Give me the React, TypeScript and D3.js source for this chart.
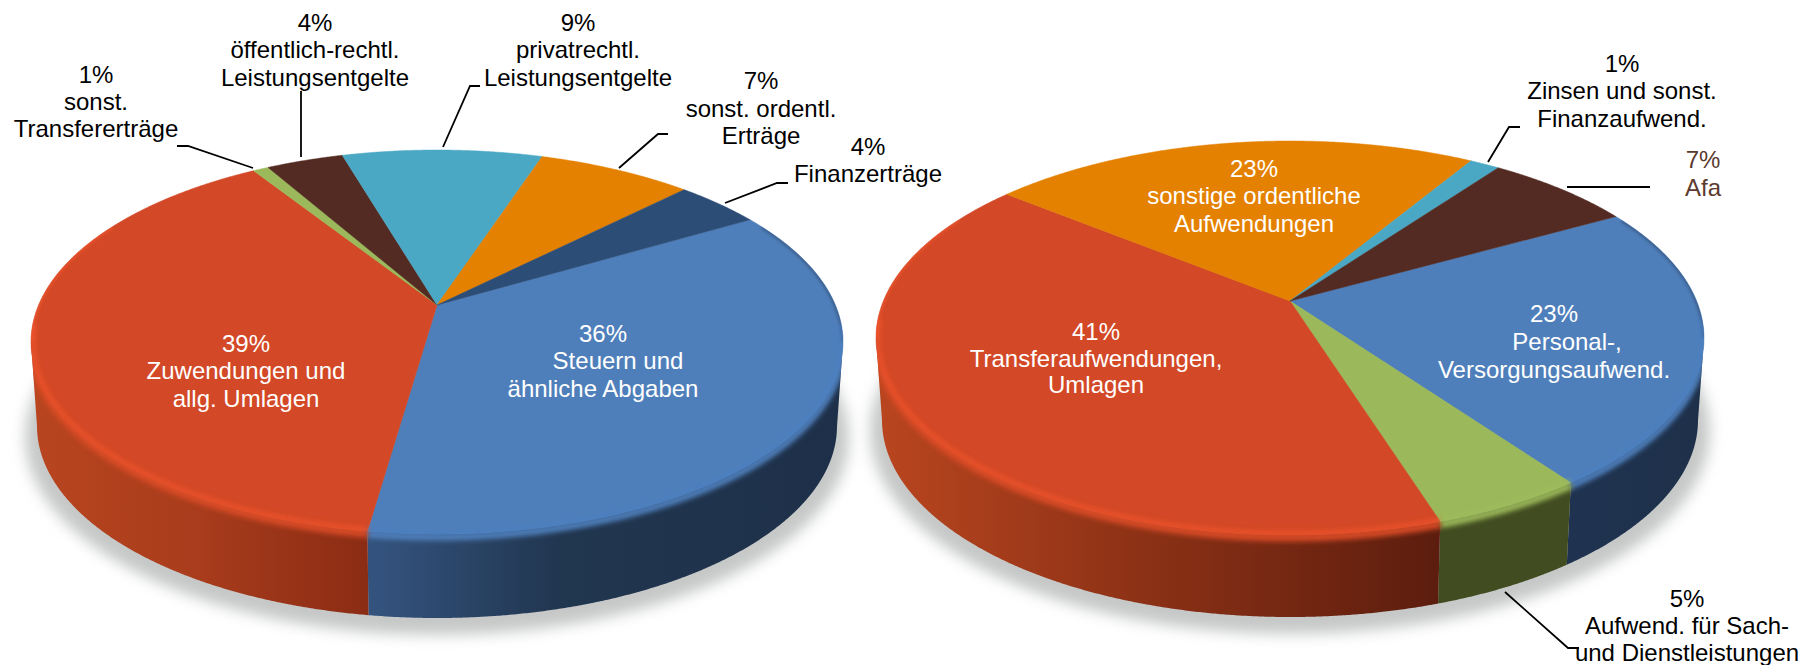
import React from "react";
import * as d3 from "d3";

// ---------- data (percent shares, clockwise) ----------
const incomeLabels = ["Steuern", "Zuwendungen und allg. Umlagen", "sonst. Transfererträge", "öffentlich-rechtl. Leistungsentgelte", "privatrechtl. Leistungsentgelte", "sonst. ordentl. Erträge", "Finanzerträge"];
const incomeValues = [35.7, 38.75, 0.75, 3.7, 9.6, 7.4, 4.1];
const incomeKinds = ["blue", "red", "green", "brown", "teal", "orange", "navy"];

const expenseLabels = ["Personal-, Versorgungsaufwend.", "Sach- und Dienstleistungen", "Transferaufwendungen, Umlagen", "sonstige ordentliche Aufwendungen", "Zinsen und sonst. Finanzaufwend.", "Afa"];
const expenseValues = [23.1, 5.05, 40.7, 22.85, 1.4, 6.9];
const expenseKinds = ["blue", "green", "red", "orange", "teal", "brown"];

// ---------- styles ----------
const TOP: Record<string, string> = { blue: "#4f7fba", navy: "#2c4d76", orange: "#e48100", teal: "#4aa8c5", brown: "#532b22", green: "#9bb85a", red: "#d34826" };
const RIM: Record<string, string> = { blue: "#4a7fc2", navy: "#2c4d76", orange: "#e48100", teal: "#4aa8c5", brown: "#532b22", green: "#9fbd5e", red: "#f4562b" };
const EDGE: Record<string, string> = { blue: "#2c4a72", red: "#f4562b" };

type Geo = { id: string; cx: number; cy: number; rx: number; ry: number; apexUp: number; depth: number; brx: number; startDeg: number };
const leftGeo: Geo = { id: "l", cx: 437, cy: 342, rx: 406, ry: 192, apexUp: 37, depth: 84, brx: 400, startDeg: 59.6 };
const rightGeo: Geo = { id: "r", cx: 1290, cy: 338, rx: 414, ry: 197, apexUp: 37, depth: 82, brx: 408, startDeg: 61 };

const sideStops: Record<string, Record<string, [number, string][]>> = {
  l: {
    red: [[37, "#b8451f"], [200, "#a83c1c"], [367, "#8b2c14"]],
    blue: [[367, "#345480"], [560, "#21364f"], [843, "#1e3049"]],
  },
  r: {
    red: [[884, "#b8451f"], [1130, "#8e3216"], [1442, "#5c1d0e"]],
    green: [[1442, "#414c20"], [1575, "#414c20"]],
    blue: [[1575, "#1f3350"], [1704, "#1e3049"]],
  },
};

const FONT = "'Liberation Sans', Arial, sans-serif";
const FS = 24;

type Lab = { lines: [string, number, number][]; fill: string };
const labels: Lab[] = [
  { fill: "#000", lines: [["1%", 96, 83], ["sonst.", 96, 110], ["Transfererträge", 96, 137]] },
  { fill: "#000", lines: [["4%", 315, 31], ["öffentlich-rechtl.", 315, 58], ["Leistungsentgelte", 315, 86]] },
  { fill: "#000", lines: [["9%", 578, 31], ["privatrechtl.", 578, 58], ["Leistungsentgelte", 578, 86]] },
  { fill: "#000", lines: [["7%", 761, 89], ["sonst. ordentl.", 761, 117], ["Erträge", 761, 144]] },
  { fill: "#000", lines: [["4%", 868, 155], ["Finanzerträge", 868, 182]] },
  { fill: "#fff", lines: [["39%", 246, 352], ["Zuwendungen und", 246, 379], ["allg. Umlagen", 246, 407]] },
  { fill: "#fff", lines: [["36%", 603, 342], ["Steuern und", 618, 369], ["ähnliche Abgaben", 603, 397]] },
  { fill: "#000", lines: [["1%", 1622, 72], ["Zinsen und sonst.", 1622, 99], ["Finanzaufwend.", 1622, 127]] },
  { fill: "#5c3a2e", lines: [["7%", 1703, 168], ["Afa", 1703, 196]] },
  { fill: "#fff", lines: [["23%", 1254, 177], ["sonstige ordentliche", 1254, 204], ["Aufwendungen", 1254, 232]] },
  { fill: "#fff", lines: [["41%", 1096, 340], ["Transferaufwendungen,", 1096, 367], ["Umlagen", 1096, 393]] },
  { fill: "#fff", lines: [["23%", 1554, 322], ["Personal-,", 1567, 350], ["Versorgungsaufwend.", 1554, 378]] },
  { fill: "#000", lines: [["5%", 1687, 607], ["Aufwend. für Sach-", 1687, 634], ["und Dienstleistungen", 1687, 661]] },
];

const leaders: [number, number][][] = [
  [[177, 146], [188, 146], [253, 168]],
  [[301, 91], [301, 157]],
  [[480, 86], [470, 86], [443, 147]],
  [[668, 134], [658, 134], [619, 168]],
  [[788, 183], [777, 183], [725, 203]],
  [[1520, 127], [1509, 127], [1488, 162]],
  [[1650, 187], [1567, 187]],
  [[1505, 592], [1568, 648], [1579, 648]],
];

// ---------- geometry: perspective view of a disc ----------
const line = d3.line<[number, number]>().x((d) => d[0]).y((d) => d[1]);

function viewAngle(g: Geo) {
  const e = g.apexUp / g.ry;
  const a = (1 - Math.sqrt(1 - e * e)) / e;
  const ratio = (1 - a) / (1 + a);
  return (phi: number) => {
    const k = Math.round(phi / (2 * Math.PI));
    const r = phi - k * 2 * Math.PI;
    return 2 * Math.atan(ratio * Math.tan(r / 2)) + k * 2 * Math.PI;
  };
}

function Pie({ g, values, kinds }: { g: Geo; values: number[]; kinds: string[] }) {
  const toTheta = viewAngle(g);
  const start = (g.startDeg * Math.PI) / 180;
  const arcs = d3.pie<number>().sort(null).startAngle(start).endAngle(start + 2 * Math.PI)(values);
  const topPt = (th: number): [number, number] => [g.cx + g.rx * Math.sin(th), g.cy - g.ry * Math.cos(th)];
  const botPt = (th: number): [number, number] => [g.cx + g.brx * Math.sin(th), g.cy + g.depth - g.ry * Math.cos(th)];
  const step = Math.PI / 720;
  const samples = (a: any) => [...d3.range(a.startAngle, a.endAngle, step), a.endAngle].map(toTheta);
  const apex: [number, number] = [g.cx, g.cy - g.apexUp];
  const lower = (th: number) => Math.cos(th) <= 0;
  const band = (th: number) => Math.cos(th) <= 0.1;
  const upperBand = (th: number) => Math.cos(th) > 0 && Math.cos(th) < 0.6;
  const circle = d3.range(0, 2 * Math.PI, step);
  const upperRim = circle.filter((t) => !lower(t)).sort((p, q) => Math.sin(p) - Math.sin(q)).map(topPt);
  const lowerRim = circle.filter(lower).sort((p, q) => Math.sin(q) - Math.sin(p)).map(botPt);
  const silhouette = line([...upperRim, ...lowerRim]) + "Z";

  return (
    <g>
      <defs>
        <clipPath id={`sil-${g.id}`}>
          <path d={silhouette} />
        </clipPath>
        {Object.entries(sideStops[g.id]).map(([k, stops]) => {
          const x0 = stops[0][0];
          const x1 = stops[stops.length - 1][0];
          return (
            <linearGradient key={k} id={`side-${g.id}-${k}`} gradientUnits="userSpaceOnUse" x1={x0} x2={x1} y1={0} y2={0}>
              {stops.map(([x, c], i) => (
                <stop key={i} offset={(x - x0) / (x1 - x0)} stopColor={c} />
              ))}
            </linearGradient>
          );
        })}
      </defs>
      <ellipse cx={g.cx} cy={g.cy + g.depth + 11} rx={g.brx + 12} ry={g.ry + 6} fill="#c6c8c8" filter="url(#blur8)" />
      {arcs.map((a, i) => {
        const th = samples(a).filter(lower);
        if (th.length < 2) return null;
        const pts = [...th.map(topPt), ...th.slice().reverse().map(botPt)];
        return <path key={i} d={line(pts) + "Z"} fill={`url(#side-${g.id}-${kinds[i]})`} />;
      })}
      <g clipPath={`url(#sil-${g.id})`}>
        {arcs.map((a, i) => {
          const th = samples(a).filter(lower);
          if (th.length < 2) return null;
          const pts = th.map(topPt).map((p) => [p[0], p[1] + 3] as [number, number]);
          return <path key={i} d={line(pts) ?? ""} fill="none" stroke={TOP[kinds[i]]} strokeWidth={7} filter="url(#blur3)" />;
        })}
      </g>
      {arcs.map((a, i) => {
        const pts: [number, number][] = [apex, ...samples(a).map(topPt)];
        return <path key={i} d={line(pts) + "Z"} fill={TOP[kinds[i]]} stroke={TOP[kinds[i]]} strokeWidth={0.5} />;
      })}
      <g clipPath={`url(#sil-${g.id})`}>
        {arcs.map((a, i) => {
          const edge = EDGE[kinds[i]];
          const th = samples(a).filter(upperBand);
          if (!edge || th.length < 2) return null;
          return <path key={i} d={line(th.map(topPt)) ?? ""} fill="none" stroke={edge} strokeWidth={4} strokeOpacity={0.6} filter="url(#blur15)" />;
        })}
        {arcs.map((a, i) => {
          const th = samples(a).filter(band);
          if (th.length < 2) return null;
          const pts = th.map((t) => {
            const p = topPt(t);
            return [g.cx + (p[0] - g.cx) * 0.996, g.cy + (p[1] - g.cy) * 0.993] as [number, number];
          });
          return <path key={i} d={line(pts) ?? ""} fill="none" stroke={RIM[kinds[i]]} strokeWidth={4} strokeOpacity={0.85} filter="url(#blur3)" />;
        })}
      </g>
    </g>
  );
}

export default function App() {
  return (
    <svg width={1803} height={665} viewBox="0 0 1803 665" style={{ position: "absolute", left: 0, top: 0, display: "block", background: "#fff" }}>
      <defs>
        <filter id="blur8" filterUnits="userSpaceOnUse" x={0} y={0} width={1803} height={665}>
          <feGaussianBlur stdDeviation={7} />
        </filter>
        <filter id="blur3" filterUnits="userSpaceOnUse" x={0} y={0} width={1803} height={665}>
          <feGaussianBlur stdDeviation={2.5} />
        </filter>
        <filter id="blur15" filterUnits="userSpaceOnUse" x={0} y={0} width={1803} height={665}>
          <feGaussianBlur stdDeviation={1.5} />
        </filter>
      </defs>
      <Pie g={leftGeo} values={incomeValues} kinds={incomeKinds} />
      <Pie g={rightGeo} values={expenseValues} kinds={expenseKinds} />
      {leaders.map((pts, i) => (
        <path key={i} d={line(pts) ?? ""} fill="none" stroke="#000" strokeWidth={1.8} />
      ))}
      {labels.map((lab, i) => (
        <g key={i} fontFamily={FONT} fontSize={FS} fill={lab.fill} textAnchor="middle">
          {lab.lines.map(([t, x, y], j) => (
            <text key={j} x={x} y={y}>{t}</text>
          ))}
        </g>
      ))}
    </svg>
  );
}
